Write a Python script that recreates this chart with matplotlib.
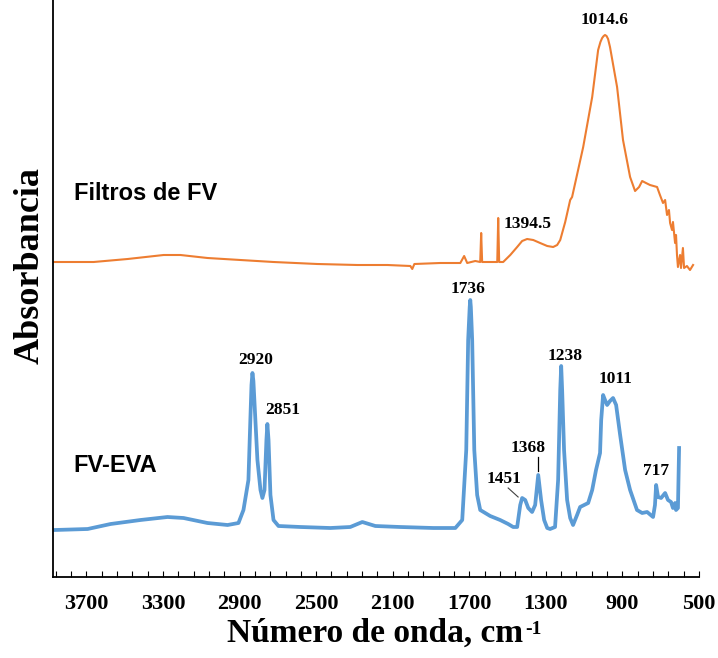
import matplotlib
matplotlib.use("Agg")
import matplotlib.pyplot as plt
import numpy as np

# FV-EVA spectrum (wavenumber, absorbance offset units)
eva_wn = [3866, 3694, 3574, 3418, 3277, 3193, 3068, 2963, 2906, 2880, 2854, 2844,
          2838, 2833, 2828, 2823, 2807, 2791, 2781, 2770, 2760, 2755, 2749, 2739,
          2723, 2697, 2582, 2426, 2322, 2259, 2191, 2061, 1888, 1773, 1737, 1716,
          1706, 1698, 1695, 1692, 1685, 1674, 1659, 1643, 1591, 1539, 1497, 1471,
          1450, 1434, 1424, 1408, 1392, 1372, 1356, 1340, 1325, 1309, 1293, 1278,
          1252, 1236, 1225, 1220, 1215, 1205, 1189, 1173, 1158, 1137, 1121, 1100,
          1079, 1058, 1038, 1017, 1011, 1001, 991, 980, 965, 949, 933, 912, 886,
          860, 824, 797, 771, 740, 730, 724, 714, 698, 677, 662, 646, 636, 625,
          620, 610, 604]
eva_abs = [0.47, 0.48, 0.53, 0.57, 0.60, 0.59, 0.54, 0.52, 0.54, 0.67, 0.97, 1.57,
           1.92, 2.04, 1.96, 1.77, 1.17, 0.87, 0.79, 0.87, 1.37, 1.53, 1.37, 0.82,
           0.57, 0.51, 0.50, 0.49, 0.50, 0.55, 0.51, 0.50, 0.49, 0.49, 0.57, 1.27,
           2.37, 2.70, 2.77, 2.70, 2.37, 1.27, 0.82, 0.67, 0.61, 0.57, 0.53, 0.50,
           0.50, 0.72, 0.79, 0.77, 0.69, 0.65, 0.72, 1.02, 0.77, 0.57, 0.49, 0.48,
           0.50, 0.97, 1.87, 2.11, 1.87, 1.27, 0.77, 0.59, 0.52, 0.62, 0.70, 0.72,
           0.74, 0.87, 1.07, 1.24, 1.57, 1.82, 1.77, 1.72, 1.76, 1.79, 1.72, 1.42,
           1.07, 0.87, 0.67, 0.64, 0.65, 0.60, 0.72, 0.92, 0.80, 0.79, 0.84, 0.77,
           0.75, 0.69, 0.74, 0.67, 0.69, 1.29]

# Filtros de FV spectrum
fv_wn = [3872, 3663, 3485, 3297, 3209, 3068, 2896, 2723, 2494, 2285, 2128, 2008,
         1998, 1987, 1852, 1747, 1727, 1711, 1669, 1643, 1638, 1633, 1554, 1549,
         1544, 1523, 1486, 1450, 1424, 1398, 1366, 1330, 1293, 1262, 1241, 1225,
         1199, 1173, 1163, 1105, 1058, 1027, 1015, 1006, 998, 991, 983, 975, 965,
         928, 897, 860, 834, 813, 797, 777, 756, 719, 704, 688, 677, 667, 657, 651,
         641, 636, 625, 620, 615, 610, 599, 594, 584, 578, 563, 547, 531]
fv_abs = [3.15, 3.15, 3.18, 3.22, 3.22, 3.19, 3.17, 3.15, 3.13, 3.12, 3.12, 3.11,
          3.08, 3.13, 3.14, 3.14, 3.21, 3.14, 3.16, 3.15, 3.44, 3.15, 3.15, 3.59,
          3.15, 3.15, 3.22, 3.30, 3.36, 3.38, 3.37, 3.34, 3.31, 3.30, 3.32, 3.37,
          3.55, 3.77, 3.80, 4.30, 4.80, 5.27, 5.35, 5.39, 5.41, 5.42, 5.41, 5.38,
          5.30, 4.90, 4.37, 4.00, 3.86, 3.90, 3.96, 3.94, 3.92, 3.90, 3.82, 3.74,
          3.77, 3.62, 3.67, 3.54, 3.47, 3.55, 3.34, 3.42, 3.22, 3.10, 3.22, 3.09,
          3.29, 3.09, 3.11, 3.07, 3.12]

# peak labels: text, wavenumber, height
eva_peaks = [("2920", 2817, 2.17), ("2851", 2676, 1.67), ("1736", 1706, 2.88),
             ("1451", 1518, 0.98), ("1368", 1392, 1.29), ("1238", 1199, 2.21),
             ("1011", 938, 1.98), ("717", 724, 1.06)]
fv_peaks = [("1014.6", 991, 5.57), ("1394.5", 1398, 3.53)]

blue = '#5B9BD5'
orange = '#ED7D31'

fig = plt.figure(figsize=(7.18, 6.58), dpi=100)
ax = fig.add_axes([53/718, 81/658, 646/718, 577/658])

ax.plot(eva_wn, eva_abs, color=blue, lw=2.7, solid_joinstyle='round')
ax.plot(fv_wn, fv_abs, color=orange, lw=1.5, solid_joinstyle='round')

for txt, x, y in eva_peaks + fv_peaks:
    ax.text(x, y, txt, ha='center', va='center', fontsize=12.5,
            family='Liberation Serif', fontweight='bold')

# leader lines
ax.plot([1497, 1445], [0.89, 0.80], color='#404040', lw=0.8)
ax.plot([1340, 1340], [1.20, 1.06], color='black', lw=0.9)

ax.text(3767, 3.84, "Filtros de FV", fontsize=17, family='Liberation Sans',
        fontweight='bold', va='center', ha='left')
ax.text(3767, 1.12, "FV-EVA", fontsize=17, family='Liberation Sans',
        fontweight='bold', va='center', ha='left')

ax.set_xlim(3875, 500)
ax.set_ylim(0, 5.77)
ax.set_xticks(np.arange(3700, 499, -400))
ax.set_xticks(np.arange(3860, 499, -80), minor=True)
ax.set_yticks([])
ax.tick_params(axis='x', which='both', direction='in', length=4, width=0.8, pad=12)
for lab in ax.get_xticklabels():
    lab.set_family('Liberation Serif')
    lab.set_fontweight('bold')
    lab.set_fontsize(16)

for s in ['top', 'right']:
    ax.spines[s].set_visible(False)
for s in ['left', 'bottom']:
    ax.spines[s].set_linewidth(1.3)

# x label with a small raised "-1"
xl = fig.text(0.522, 0.037, "Número de onda, cm", family='Liberation Serif',
              fontweight='bold', fontsize=24, ha='center', va='center')
fig.canvas.draw()
bb = xl.get_window_extent().transformed(fig.transFigure.inverted())
fig.text(bb.x1 + 0.003, bb.y1 - 0.004, "-1", family='Liberation Serif',
         fontweight='bold', fontsize=14, ha='left', va='top')

ax.set_ylabel("Absorbancia", family='Liberation Serif', fontweight='bold',
              fontsize=26)
ax.yaxis.set_label_coords(-0.01, 0.54)

fig.savefig("out.png", dpi=100)
